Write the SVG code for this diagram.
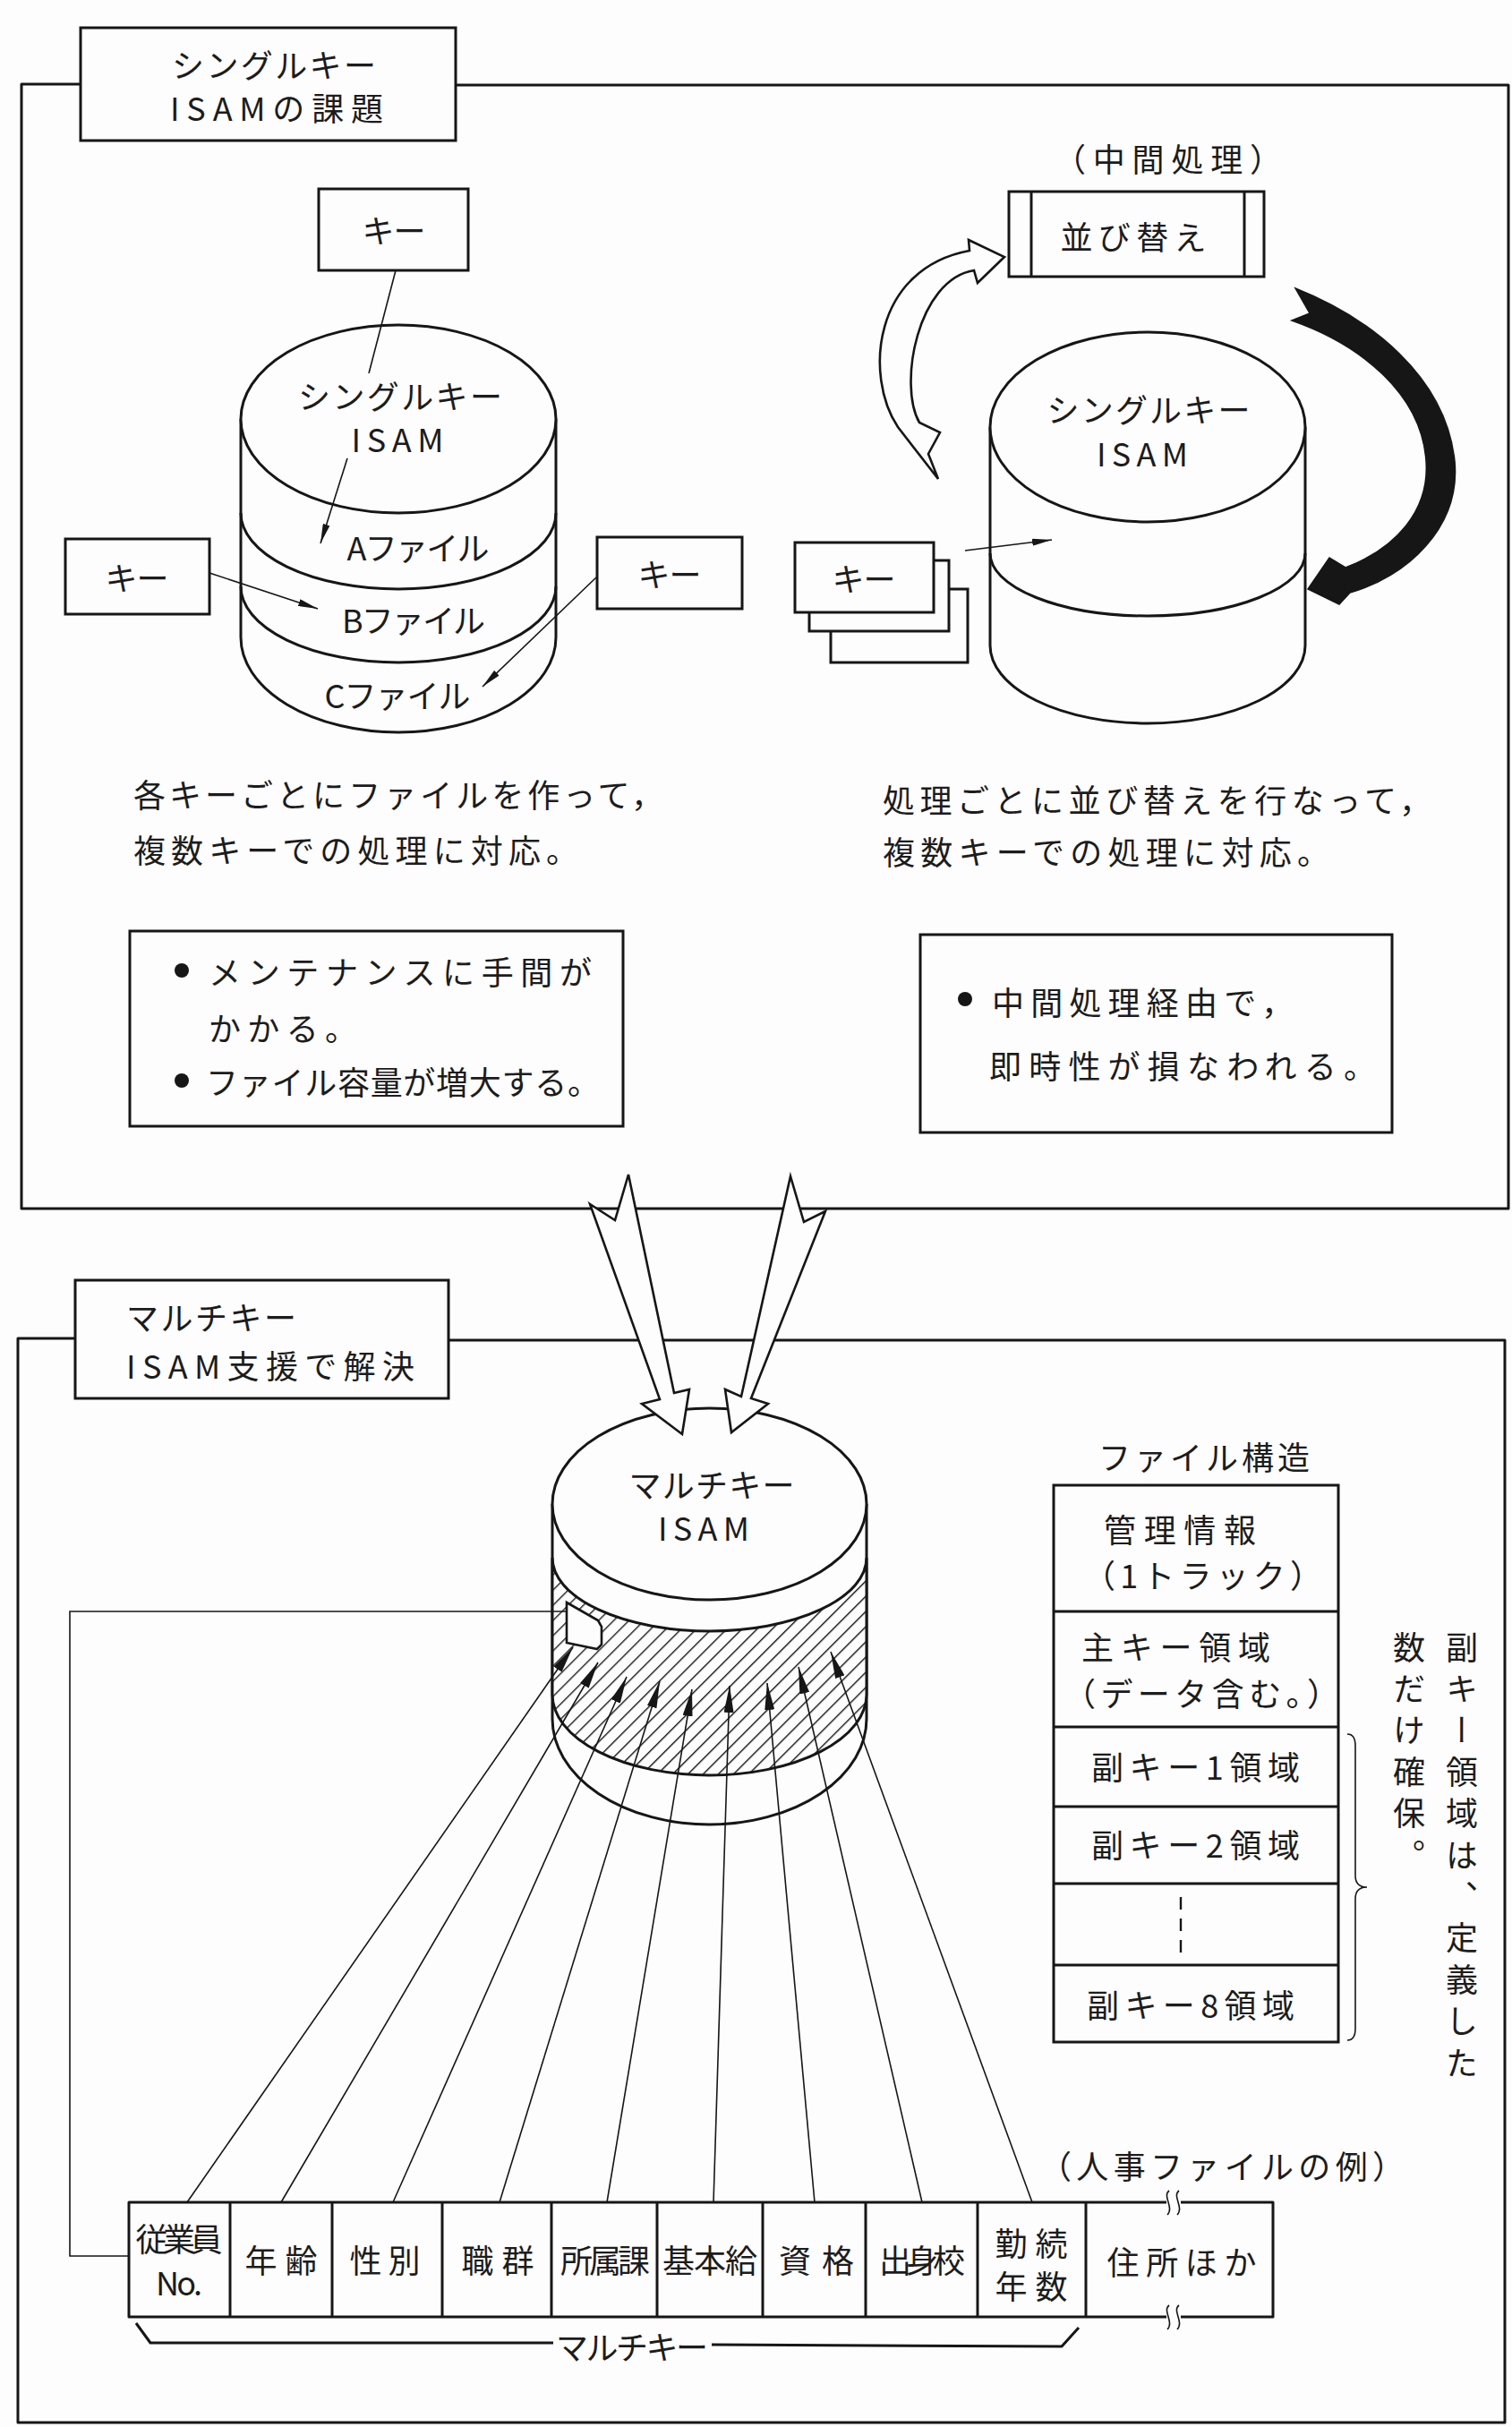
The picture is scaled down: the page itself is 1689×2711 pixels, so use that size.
<svg xmlns="http://www.w3.org/2000/svg" width="1689" height="2711" viewBox="0 0 1689 2711">
  <style>
    .ln { fill: none; stroke: #161616; stroke-width: 3; stroke-linejoin: round; }
    .box { fill: #fdfdfd; stroke: #161616; stroke-width: 3; }
    .thin { fill: none; stroke: #161616; stroke-width: 1.6; }
    .wf { fill: #fdfdfd; stroke: #161616; stroke-width: 2.6; stroke-linejoin: miter; }
    .t { font-family: "Noto Sans CJK JP", "Noto Sans", sans-serif; font-size: 36px; fill: #1c1c1c; dominant-baseline: central; }
    .c { text-anchor: middle; }
    .v { writing-mode: vertical-rl; letter-spacing: 10.4px; }
  </style>
  <defs>
    <marker id="ah" viewBox="0 0 22 8" refX="22" refY="4" markerWidth="22" markerHeight="8" markerUnits="userSpaceOnUse" orient="auto">
      <path d="M0,0 L22,4 L0,8 Z" fill="#161616"/>
    </marker>
    <marker id="ahk" viewBox="0 0 30 11" refX="30" refY="5.5" markerWidth="30" markerHeight="11" markerUnits="userSpaceOnUse" orient="auto">
      <path d="M0,0 L30,5.5 L0,11 Z" fill="#161616"/>
    </marker>
    <pattern id="hatch" width="12" height="12" patternUnits="userSpaceOnUse" patternTransform="rotate(45)">
      <rect width="12" height="12" fill="#fdfdfd"/>
      <line x1="0" y1="0" x2="0" y2="12" stroke="#161616" stroke-width="2.8"/>
    </pattern>
  </defs>

  <rect width="1689" height="2711" fill="#fdfdfd"/>

  <!-- upper panel: single-key ISAM -->
  <g id="panel-single">
    <path class="ln" d="M90,94 L24,94 L24,1350 L1685,1350 L1685,95 L509,95"/>
    <rect class="box" x="90" y="31" width="419" height="126"/>
    <text class="t" x="192" y="71" textLength="228">シングルキー</text>
    <text class="t" x="190" y="119" textLength="238">ISAMの課題</text>
  </g>

  <!-- lower panel: multi-key ISAM -->
  <g id="panel-multi">
    <path class="ln" d="M84,1495 L20,1495 L20,2706 L1681,2706 L1681,1497 L501,1497"/>
    <rect class="box" x="84" y="1430" width="417" height="132"/>
    <text class="t" x="141" y="1470" textLength="190">マルチキー</text>
    <text class="t" x="141" y="1524" textLength="322">ISAM支援で解決</text>
  </g>

  <!-- left: one file per key -->
  <g id="cyl-single-files">
    <path class="box" d="M269,468 L269,712 A176,106 0 0 0 621,712 L621,468"/>
    <ellipse class="box" cx="445" cy="468" rx="176" ry="105"/>
    <path class="ln" d="M269,573 A176,85 0 0 0 621,573"/>
    <path class="ln" d="M269,655 A176,85 0 0 0 621,655"/>
    <text class="t c" x="447" y="441" textLength="228">シングルキー</text>
    <text class="t c" x="444" y="489" textLength="103">ISAM</text>
    <text class="t c" x="467" y="610" textLength="159">Aファイル</text>
    <text class="t c" x="462" y="691" textLength="160">Bファイル</text>
    <text class="t c" x="444" y="775" textLength="163">Cファイル</text>
  </g>

  <g id="key-top">
    <rect class="box" x="356" y="211" width="167" height="91"/>
    <text class="t c" x="440" y="256" textLength="71">キー</text>
  </g>
  <g id="key-left">
    <rect class="box" x="73" y="602" width="161" height="84"/>
    <text class="t c" x="153" y="644" textLength="71">キー</text>
  </g>
  <g id="key-right">
    <rect class="box" x="667" y="600" width="162" height="80"/>
    <text class="t c" x="748" y="640" textLength="71">キー</text>
  </g>

  <!-- right: sort before each access -->
  <g id="sort">
    <text class="t" x="1177" y="176" textLength="255">（中間処理）</text>
    <rect class="box" x="1127" y="214" width="285" height="95"/>
    <line class="ln" x1="1152" y1="214" x2="1152" y2="309"/>
    <line class="ln" x1="1390" y1="214" x2="1390" y2="309"/>
    <text class="t c" x="1266" y="263" textLength="163">並び替え</text>
  </g>

  <g id="cyl-single-sorted">
    <path class="box" d="M1106,477 L1106,721 A176,87 0 0 0 1458,721 L1458,477"/>
    <ellipse class="box" cx="1282" cy="477" rx="176" ry="106"/>
    <path class="ln" d="M1106,618 A176,70 0 0 0 1458,618"/>
    <text class="t c" x="1283" y="456" textLength="227">シングルキー</text>
    <text class="t c" x="1276" y="505" textLength="102">ISAM</text>
  </g>

  <g id="key-stack">
    <path class="box" d="M928,705 L928,740 L1081,740 L1081,658 L1060,658"/>
    <path class="box" d="M904,684 L904,705 L1060,705 L1060,626 L1043,626"/>
    <rect class="box" x="888" y="606" width="155" height="78"/>
    <text class="t c" x="965" y="645" textLength="71">キー</text>
  </g>

  <g id="notes">
    <text class="t" x="149" y="886" textLength="592">各キーごとにファイルを作って，</text>
    <text class="t" x="149" y="948" textLength="497">複数キーでの処理に対応。</text>
    <text class="t" x="986" y="892" textLength="613">処理ごとに並び替えを行なって，</text>
    <text class="t" x="986" y="950" textLength="499">複数キーでの処理に対応。</text>
  </g>

  <g id="issue-left">
    <rect class="box" x="145" y="1040" width="551" height="218"/>
    <circle cx="203" cy="1084" r="8" fill="#161616"/>
    <text class="t" x="233" y="1084" textLength="428">メンテナンスに手間が</text>
    <text class="t" x="233" y="1147" textLength="166">かかる。</text>
    <circle cx="203" cy="1207" r="8" fill="#161616"/>
    <text class="t" x="230" y="1207" textLength="440">ファイル容量が増大する。</text>
  </g>

  <g id="issue-right">
    <rect class="box" x="1028" y="1044" width="527" height="221"/>
    <circle cx="1078" cy="1116" r="8" fill="#161616"/>
    <text class="t" x="1108" y="1118" textLength="337">中間処理経由で，</text>
    <text class="t" x="1105" y="1189" textLength="432">即時性が損なわれる。</text>
  </g>

  <!-- multi-key ISAM cylinder -->
  <g id="cyl-multi">
    <path class="box" d="M617,1680 L617,1920 A175.5,118 0 0 0 968,1920 L968,1680"/>
    <path d="M617,1740 A175.5,82 0 0 0 968,1740 L968,1893 A175.5,90 0 0 1 617,1893 Z" fill="url(#hatch)" stroke="#161616" stroke-width="3"/>
    <ellipse class="box" cx="792.5" cy="1680" rx="175.5" ry="107"/>
    <polygon class="wf" points="633,1790 668,1810 672,1817 672,1837 667,1842 633,1835"/>
    <text class="t c" x="795" y="1657" textLength="185">マルチキー</text>
    <text class="t c" x="786" y="1705" textLength="102">ISAM</text>
  </g>

  <!-- file layout -->
  <g id="file-layout">
    <text class="t" x="1227" y="1626" textLength="236">ファイル構造</text>
    <rect class="box" x="1177" y="1659" width="318" height="622"/>
    <line class="ln" x1="1177" y1="1800" x2="1495" y2="1800"/>
    <line class="ln" x1="1177" y1="1929" x2="1495" y2="1929"/>
    <line class="ln" x1="1177" y1="2018" x2="1495" y2="2018"/>
    <line class="ln" x1="1177" y1="2104" x2="1495" y2="2104"/>
    <line class="ln" x1="1177" y1="2195" x2="1495" y2="2195"/>
    <line x1="1319" y1="2119" x2="1319" y2="2184" stroke="#161616" stroke-width="2.4" stroke-dasharray="14,10"/>
    <text class="t" x="1233" y="1707" textLength="170">管理情報</text>
    <text class="t" x="1210" y="1758" textLength="267">（1トラック）</text>
    <text class="t" x="1208" y="1838" textLength="211">主キー領域</text>
    <text class="t" x="1188" y="1890" textLength="308">（データ含む。）</text>
    <text class="t" x="1219" y="1972" textLength="233">副キー1領域</text>
    <text class="t" x="1219" y="2059" textLength="233">副キー2領域</text>
    <text class="t" x="1214" y="2238" textLength="232">副キー8領域</text>
    <path class="thin" stroke-width="2" d="M1505,1937 Q1514,1937 1514,1950 L1514,2095 Q1514,2108 1527,2108 Q1514,2108 1514,2121 L1514,2266 Q1514,2279 1505,2279"/>
    <text class="t v" x="1633" y="1822">副キー領域は、定義した</text>
    <text class="t v" x="1574" y="1822">数だけ確保。</text>
  </g>

  <!-- record fields -->
  <g id="record">
    <text class="t" x="1161" y="2418" textLength="408">（人事ファイルの例）</text>
    <path class="ln" d="M1303,2460 L144,2460 L144,2588 L1303,2588"/>
    <path class="ln" d="M1319,2460 L1422,2460 L1422,2588 L1319,2588"/>
    <path class="thin" stroke-width="2.4" d="M1306,2447 C1298,2453 1312,2466 1304,2474"/>
    <path class="thin" stroke-width="2.4" d="M1317,2447 C1309,2453 1323,2466 1315,2474"/>
    <path class="thin" stroke-width="2.4" d="M1306,2575 C1298,2581 1312,2594 1304,2602"/>
    <path class="thin" stroke-width="2.4" d="M1317,2575 C1309,2581 1323,2594 1315,2602"/>
    <line class="ln" x1="257" y1="2460" x2="257" y2="2588"/>
    <line class="ln" x1="371" y1="2460" x2="371" y2="2588"/>
    <line class="ln" x1="494" y1="2460" x2="494" y2="2588"/>
    <line class="ln" x1="616" y1="2460" x2="616" y2="2588"/>
    <line class="ln" x1="734" y1="2460" x2="734" y2="2588"/>
    <line class="ln" x1="852" y1="2460" x2="852" y2="2588"/>
    <line class="ln" x1="967" y1="2460" x2="967" y2="2588"/>
    <line class="ln" x1="1092" y1="2460" x2="1092" y2="2588"/>
    <line class="ln" x1="1213" y1="2460" x2="1213" y2="2588"/>
    <text class="t c" x="200" y="2499" textLength="97">従業員</text>
    <text class="t c" x="200" y="2548" textLength="52">No.</text>
    <text class="t c" x="314" y="2523" textLength="81">年齢</text>
    <text class="t c" x="430" y="2523" textLength="79">性別</text>
    <text class="t c" x="556" y="2523" textLength="81">職群</text>
    <text class="t c" x="676" y="2523" textLength="100">所属課</text>
    <text class="t c" x="793" y="2523" textLength="106">基本給</text>
    <text class="t c" x="912" y="2523" textLength="84">資格</text>
    <text class="t c" x="1030" y="2523" textLength="96">出身校</text>
    <text class="t c" x="1152" y="2504" textLength="81">勤続</text>
    <text class="t c" x="1152" y="2552" textLength="81">年数</text>
    <text class="t c" x="1320" y="2525" textLength="167">住所ほか</text>
    <path class="ln" stroke-width="2.4" d="M152,2595 L168,2617 L618,2617"/>
    <path class="ln" stroke-width="2.4" d="M795,2619 L1186,2621 L1205,2600"/>
    <text class="t c" x="706" y="2620" textLength="170">マルチキー</text>
  </g>

  <!-- connectors -->
  <g id="connectors">
    <line class="thin" x1="442" y1="302" x2="412" y2="417"/>
    <line class="thin" x1="388" y1="512" x2="358" y2="607" marker-end="url(#ah)"/>
    <line class="thin" x1="234" y1="640" x2="355" y2="680" marker-end="url(#ah)"/>
    <line class="thin" x1="666" y1="645" x2="539" y2="767" marker-end="url(#ah)"/>
    <line class="thin" x1="1078" y1="615" x2="1175" y2="603" marker-end="url(#ah)"/>

    <!-- to the sort step -->
    <path class="wf" d="M1003,477 C965,420 975,300 1083,280 L1082,268 L1122,287 L1092,316 L1088,302 C1025,312 1003,430 1027,472 L1050,483 L1037,507 L1048,535 Z"/>
    <!-- back from the sort step -->
    <path d="M1447,322 C1530,355 1615,420 1625,515 C1632,590 1570,645 1508,662 L1496,675 L1461,658 L1485,623 L1503,634 C1560,612 1597,570 1593,515 C1588,440 1520,385 1443,358 L1463,350 Z" fill="#161616" stroke="#161616" stroke-width="1.5" stroke-linejoin="miter"/>

    <!-- upper panel into the multi-key ISAM -->
    <polygon class="wf" points="659,1345 687,1363 702,1312 753,1556 770,1552 762,1602 717,1568 737,1563"/>
    <polygon class="wf" points="922,1353 898,1365 883,1314 828,1560 810,1552 817,1600 858,1568 839,1562"/>

    <!-- primary key -->
    <path class="thin" stroke-width="2" d="M633,1800 L78,1800 L78,2520 L144,2520"/>

    <!-- each key field to its key area -->
    <line class="thin" x1="209" y1="2460" x2="640" y2="1840" marker-end="url(#ahk)"/>
    <line class="thin" x1="314" y1="2460" x2="668" y2="1857" marker-end="url(#ahk)"/>
    <line class="thin" x1="439" y1="2460" x2="700" y2="1873" marker-end="url(#ahk)"/>
    <line class="thin" x1="558" y1="2460" x2="737" y2="1878" marker-end="url(#ahk)"/>
    <line class="thin" x1="678" y1="2460" x2="773" y2="1887" marker-end="url(#ahk)"/>
    <line class="thin" x1="797" y1="2460" x2="815" y2="1883" marker-end="url(#ahk)"/>
    <line class="thin" x1="910" y1="2460" x2="857" y2="1880" marker-end="url(#ahk)"/>
    <line class="thin" x1="1030" y1="2460" x2="892" y2="1862" marker-end="url(#ahk)"/>
    <line class="thin" x1="1153" y1="2460" x2="928" y2="1845" marker-end="url(#ahk)"/>
  </g>
</svg>
